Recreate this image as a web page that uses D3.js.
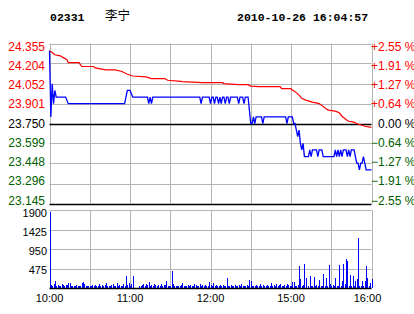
<!DOCTYPE html>
<html>
<head>
<meta charset="utf-8">
<script src="https://cdn.jsdelivr.net/npm/d3@7"></script>
<style>
  body { margin: 0; background: #fff; }
  svg { display: block; }
  .lbl { font-family: "Liberation Sans", Arial, sans-serif; font-size: 12px; }
  .head { font-family: "Liberation Mono", monospace; font-size: 11.5px; font-weight: bold; }
</style>
</head>
<body>
<div id="chart"></div>
<script>
// header
const stockCode = "02331";
const stockName = "李宁";
const stamp = "2010-10-26 16:04:57";

// axes
const prevClose = 23.75;
const priceTicks = ["24.355", "24.204", "24.052", "23.901", "23.750", "23.599", "23.448", "23.296", "23.145"];
const pctTicks = ["+2.55", "+1.91", "+1.27", "+0.64", "0.00", "-0.64", "-1.27", "-1.91", "-2.55"];
const volTicks = [1900, 1425, 950, 475];
const timeLabels = ["10:00", "11:00", "12:00", "15:00", "16:00"];
const timeLabelMinutes = [0, 60, 120, 180, 240];
const gridMinutes = [0, 30, 60, 90, 120, 150, 180, 210, 240];

// last price, minutes after open
const priceMinutes = [0, 1, 2, 3, 4, 5, 12, 14, 56, 58, 60, 62, 73, 74, 75, 76, 77,
    112, 113, 114, 119, 120, 121, 122, 123, 124, 125, 126, 127, 128, 129, 130, 131, 132, 133, 134, 135,
    140, 141, 142, 144, 145, 146, 148, 150, 151, 152, 153, 154, 158, 159, 160, 176, 177, 178,
    181, 182, 183, 184, 185, 186, 187, 188, 189, 190, 193, 194, 195, 196, 199, 200, 201, 203, 204,
    212, 213, 214, 215, 216, 217, 218, 219, 221, 222, 223, 224, 225, 227, 228, 229, 230, 231, 232,
    233, 234, 235, 236, 240];
const prices = [24.30, 23.80, 24.05, 23.90, 24.00, 23.95, 23.95, 23.90, 23.90, 24.00, 24.00, 23.95, 23.95, 23.90, 23.95, 23.90, 23.95,
    23.95, 23.90, 23.95, 23.95, 23.90, 23.95, 23.95, 23.90, 23.95, 23.95, 23.90, 23.95, 23.90, 23.95, 23.95, 23.90, 23.95, 23.95, 23.90, 23.95,
    23.95, 23.90, 23.95, 23.95, 23.90, 23.95, 23.95, 23.75, 23.75, 23.80, 23.75, 23.80, 23.80, 23.75, 23.80, 23.80, 23.75, 23.80,
    23.80, 23.75, 23.75, 23.70, 23.65, 23.70, 23.60, 23.55, 23.60, 23.50, 23.50, 23.55, 23.50, 23.55, 23.55, 23.50, 23.55, 23.55, 23.50,
    23.50, 23.55, 23.50, 23.55, 23.50, 23.55, 23.50, 23.55, 23.55, 23.50, 23.55, 23.50, 23.55, 23.55, 23.50, 23.45, 23.45, 23.40, 23.45,
    23.45, 23.50, 23.45, 23.40, 23.40];

// average price
const avgMinutes = [0, 2, 4, 8, 10, 13, 14, 22, 24, 33, 34, 42, 49, 54, 58, 62, 72, 76, 86, 88, 98, 99, 114, 129, 130,
    141, 148, 150, 156, 172, 173, 180, 181, 183, 186, 188, 191, 196, 201, 203, 206, 208, 213, 216, 218,
    221, 223, 227, 229, 233, 235, 239, 240];
const avgPrices = [24.300, 24.287, 24.270, 24.262, 24.250, 24.232, 24.211, 24.211, 24.181, 24.181, 24.170, 24.155, 24.155,
    24.143, 24.122, 24.109, 24.102, 24.090, 24.090, 24.077, 24.069, 24.067, 24.059, 24.059, 24.052,
    24.044, 24.044, 24.033, 24.029, 24.029, 24.014, 24.014, 24.003, 23.991, 23.965, 23.940, 23.927, 23.912, 23.900, 23.887,
    23.862, 23.851, 23.843, 23.831, 23.805, 23.780, 23.767, 23.760, 23.748, 23.737, 23.729, 23.722, 23.720];

// volume per minute (index = minutes after open)
const volumes = [
    1850, 70, 60, 90, 170, 60, 70, 50, 60, 100,
    70, 60, 80, 70, 120, 110, 60, 50, 60, 60,
    70, 50, 60, 60, 110, 150, 90, 60, 60, 50,
    60, 60, 70, 60, 80, 60, 60, 90, 60, 70,
    60, 80, 120, 60, 50, 60, 70, 90, 60, 60,
    110, 60, 70, 60, 60, 90, 60, 290, 70, 120,
    60, 90, 290, 0, 0, 0, 0, 60, 50, 80,
    90, 60, 100, 70, 140, 60, 70, 60, 90, 70,
    60, 80, 60, 90, 60, 70, 80, 170, 60, 60,
    60, 415, 90, 60, 60, 50, 60, 60, 70, 110,
    60, 60, 60, 70, 60, 80, 60, 60, 90, 80,
    60, 60, 100, 60, 70, 60, 80, 60, 60, 150,
    70, 60, 110, 60, 70, 60, 60, 80, 60, 70,
    60, 60, 245, 60, 60, 70, 60, 60, 80, 60,
    60, 70, 60, 100, 60, 60, 60, 70, 60, 195,
    170, 60, 60, 60, 70, 60, 60, 90, 60, 70,
    60, 60, 80, 60, 60, 120, 60, 70, 60, 90,
    60, 70, 90, 60, 60, 70, 60, 100, 80, 60,
    60, 150, 140, 60, 60, 70, 540, 220, 60, 70,
    590, 250, 0, 60, 290, 60, 60, 280, 60, 80,
    60, 200, 60, 60, 340, 60, 245, 60, 560, 90,
    60, 70, 60, 245, 60, 60, 560, 60, 170, 590,
    100, 710, 660, 60, 320, 60, 290, 60, 170, 220,
    1220, 60, 60, 170, 60, 170, 540, 250, 60, 120,
    220];

(function () {
    const width = 414, height = 314;
    const red = "#ff0000", green = "#006000", grid = "#b4b4b4";

    const svg = d3.select("#chart").append("svg")
        .attr("width", width)
        .attr("height", height);

    const x = d3.scaleLinear().domain([0, 240]).range([49.5, 371.5]);
    const yP = d3.scaleLinear().domain([+priceTicks[8], +priceTicks[0]]).range([203.5, 43.5]);
    const yV = d3.scaleLinear().domain([0, volTicks[0]]).range([288, 210]);

    const tickColor = (i) => i < 4 ? red : i === 4 ? "#000" : green;

    // header
    svg.append("text").attr("class", "head").attr("x", 50).attr("y", 21).text(stockCode);
    svg.append("text").attr("x", 105).attr("y", 20)
        .style("font-family", '"Noto Sans CJK SC", sans-serif').style("font-size", "12.5px")
        .text(stockName);
    svg.append("text").attr("class", "head").attr("x", 237).attr("y", 21).text(stamp);

    // price grid
    const pg = svg.append("g");
    pg.selectAll("line.h").data(priceTicks.slice(0, 8)).join("line")
        .attr("x1", x(0)).attr("x2", x(240))
        .attr("y1", d => Math.round(yP(+d)) + 0.5).attr("y2", d => Math.round(yP(+d)) + 0.5)
        .attr("stroke", (d, i) => i === 4 ? "#000" : grid);
    pg.selectAll("line.v").data(gridMinutes).join("line")
        .attr("x1", d => Math.round(x(d)) + 0.5).attr("x2", d => Math.round(x(d)) + 0.5)
        .attr("y1", yP(+priceTicks[0])).attr("y2", yP(+priceTicks[8]))
        .attr("stroke", grid);
    pg.append("line")
        .attr("x1", x(0)).attr("x2", x(240))
        .attr("y1", Math.round(yP(+priceTicks[8])) + 0.5).attr("y2", Math.round(yP(+priceTicks[8])) + 0.5)
        .attr("stroke", "#000").attr("stroke-width", 1.5);
    pg.select("line:nth-child(5)").raise().attr("stroke-width", 1.5);

    // volume grid
    const vg = svg.append("g");
    vg.selectAll("line.h").data(volTicks).join("line")
        .attr("x1", x(0)).attr("x2", x(240))
        .attr("y1", d => Math.round(yV(d)) + 0.5).attr("y2", d => Math.round(yV(d)) + 0.5)
        .attr("stroke", grid);
    vg.selectAll("line.v").data(gridMinutes).join("line")
        .attr("x1", d => Math.round(x(d)) + 0.5).attr("x2", d => Math.round(x(d)) + 0.5)
        .attr("y1", yV(volTicks[0])).attr("y2", yV(0))
        .attr("stroke", grid);

    // volume bars
    svg.append("g").selectAll("rect").data(volumes).join("rect")
        .attr("x", (d, i) => Math.round(x(i)))
        .attr("width", 1)
        .attr("y", d => Math.round(yV(d)))
        .attr("height", d => Math.round(yV(0)) - Math.round(yV(d)))
        .attr("fill", "#0000ff");
    svg.append("line")
        .attr("x1", x(0)).attr("x2", x(240))
        .attr("y1", yV(0) + 0.5).attr("y2", yV(0) + 0.5)
        .attr("stroke", "#000").attr("stroke-width", 1.5);

    // lines
    const line = d3.line().x(d => x(d[0])).y(d => yP(d[1]));
    svg.append("path")
        .datum(d3.zip(avgMinutes, avgPrices))
        .attr("d", line)
        .attr("fill", "none").attr("stroke", red).attr("stroke-width", 1.2);
    svg.append("path")
        .datum(d3.zip(priceMinutes, prices))
        .attr("d", line)
        .attr("fill", "none").attr("stroke", "#0000ff").attr("stroke-width", 1.3);

    // left price labels
    svg.append("g").selectAll("text").data(priceTicks).join("text")
        .attr("class", "lbl")
        .attr("x", 45)
        .attr("y", (d, i) => yP(+d) + 4 + (4 - i) * 0.75)
        .attr("text-anchor", "end")
        .attr("fill", (d, i) => tickColor(i))
        .text(d => d);

    // right percent labels
    svg.append("g").selectAll("text").data(pctTicks).join("text")
        .attr("class", "lbl")
        .attr("x", (d, i) => i === 4 ? 378 : 371)
        .attr("y", (d, i) => yP(+priceTicks[i]) + 4 + (4 - i) * 0.75)
        .attr("fill", (d, i) => tickColor(i))
        .text(d => d.replace("-", "\u2212") + " %");

    // volume labels
    svg.append("g").selectAll("text").data(volTicks).join("text")
        .attr("class", "lbl")
        .style("font-size", "11px")
        .attr("x", 47)
        .attr("y", (d, i) => yV(d) + 7 - i * 0.6)
        .attr("text-anchor", "end")
        .attr("fill", "#000")
        .text(d => d);

    // time labels
    svg.append("g").selectAll("text").data(timeLabels).join("text")
        .attr("class", "lbl")
        .style("font-size", "11px")
        .attr("x", (d, i) => x(timeLabelMinutes[i]) - (i === timeLabels.length - 1 ? 4 : 0))
        .attr("y", 302)
        .attr("text-anchor", "middle")
        .attr("fill", "#000")
        .text(d => d);
})();
</script>
</body>
</html>
